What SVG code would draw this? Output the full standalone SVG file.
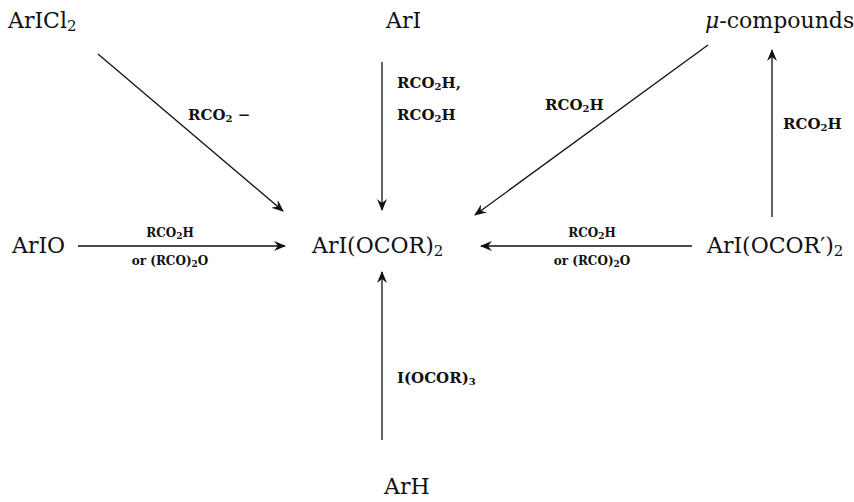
<svg xmlns="http://www.w3.org/2000/svg" width="854" height="502" viewBox="0 0 854 502">
<defs>
<marker id="ah" viewBox="0 0 12 10" refX="11" refY="5" markerWidth="12" markerHeight="10" markerUnits="userSpaceOnUse" orient="auto">
<path d="M0,0 L12,5 L0,10 L4,5 Z" fill="#111"/>
</marker>
<style>
.n{font-family:"DejaVu Serif","Liberation Serif",serif;font-size:22px;fill:#111}
.l{font-family:"DejaVu Serif","Liberation Serif",serif;font-size:15px;font-weight:bold;fill:#111}
.h{font-size:12px}
.s{font-size:15px}
.c{stroke:#111;stroke-width:1.3;fill:none;marker-end:url(#ah)}
</style>
</defs>
<rect width="854" height="502" fill="#fff"/>
<g id="ArICl2"><text class="n" x="8" y="28">ArICl<tspan class="s" dy="3">2</tspan></text></g>
<g id="ArI"><text class="n" x="386" y="28">ArI</text></g>
<g id="mu"><text class="n" x="705" y="28" font-size="20.5"><tspan font-style="italic">μ</tspan>-compounds</text></g>
<g id="ArIO"><text class="n" x="12" y="253">ArIO</text></g>
<g id="center"><text class="n" x="312" y="253">ArI(OCOR)<tspan class="s" dy="3">2</tspan></text></g>
<g id="ArIOCORp"><text class="n" x="707" y="253">ArI(OCOR′)<tspan class="s" dy="3">2</tspan></text></g>
<g id="ArH"><text class="n" x="384" y="494">ArH</text></g>
<g id="connectors">
<line class="c" x1="98" y1="54" x2="283" y2="211"/>
<line class="c" x1="382" y1="62" x2="382" y2="210"/>
<line class="c" x1="708" y1="45" x2="475" y2="215"/>
<line class="c" x1="772" y1="217" x2="772" y2="50"/>
<line class="c" x1="78" y1="246" x2="285" y2="246"/>
<line class="c" x1="692" y1="246" x2="481" y2="246"/>
<line class="c" x1="382" y1="440" x2="382" y2="272"/>
<text class="l" x="188" y="120">RCO<tspan dy="2" font-size="10">2</tspan><tspan dy="-2"> −</tspan></text>
<text class="l" x="397" y="88">RCO<tspan dy="2" font-size="10">2</tspan><tspan dy="-2">H,</tspan></text>
<text class="l" x="397" y="120">RCO<tspan dy="2" font-size="10">2</tspan><tspan dy="-2">H</tspan></text>
<text class="l" x="545" y="110">RCO<tspan dy="2" font-size="10">2</tspan><tspan dy="-2">H</tspan></text>
<text class="l" x="783" y="129">RCO<tspan dy="2" font-size="10">2</tspan><tspan dy="-2">H</tspan></text>
<text class="l h" x="170" y="237" text-anchor="middle">RCO<tspan dy="2" font-size="9">2</tspan><tspan dy="-2">H</tspan></text>
<text class="l h" x="170" y="265" text-anchor="middle">or (RCO)<tspan dy="2" font-size="9">2</tspan><tspan dy="-2">O</tspan></text>
<text class="l h" x="592" y="237" text-anchor="middle">RCO<tspan dy="2" font-size="9">2</tspan><tspan dy="-2">H</tspan></text>
<text class="l h" x="592" y="265" text-anchor="middle">or (RCO)<tspan dy="2" font-size="9">2</tspan><tspan dy="-2">O</tspan></text>
<text class="l" x="397" y="383">I(OCOR)<tspan dy="2" font-size="10">3</tspan></text>
</g>
</svg>
